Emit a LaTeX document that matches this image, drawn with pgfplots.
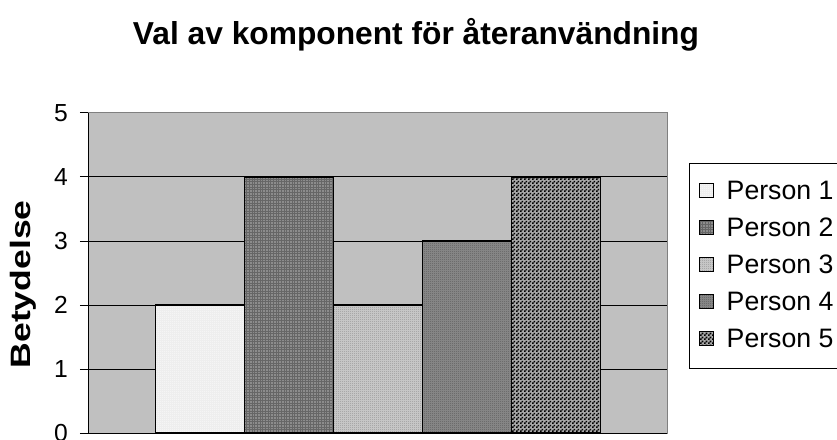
\documentclass[border=0pt]{standalone}
\usepackage{fontspec}
\setmainfont{Liberation Sans}
\usepackage{graphicx}
\usepackage{pgfplots}
\pgfplotsset{compat=1.18}
\usetikzlibrary{patterns}
\definecolor{plotbg}{HTML}{C0C0C0}
\definecolor{pone}{HTML}{EEEEEE}
\definecolor{ptwo}{HTML}{8C8C8C}
\definecolor{pthree}{HTML}{C6C6C6}
\definecolor{pfour}{HTML}{858585}
\definecolor{pfive}{HTML}{A8A8A8}
\pgfdeclarepatternformonly{fgrid}{\pgfqpoint{-0.1pt}{-0.1pt}}{\pgfqpoint{2.1pt}{2.1pt}}{\pgfqpoint{2pt}{2pt}}{%
  \pgfsetlinewidth{0.45pt}%
  \pgfpathmoveto{\pgfqpoint{0pt}{1pt}}\pgfpathlineto{\pgfqpoint{2pt}{1pt}}%
  \pgfpathmoveto{\pgfqpoint{1pt}{0pt}}\pgfpathlineto{\pgfqpoint{1pt}{2pt}}%
  \pgfusepath{stroke}}
\pgfdeclarepatternformonly{fchecker}{\pgfpointorigin}{\pgfqpoint{3pt}{3pt}}{\pgfqpoint{3pt}{3pt}}{%
  \pgfpathrectangle{\pgfpointorigin}{\pgfqpoint{1.5pt}{1.5pt}}%
  \pgfpathrectangle{\pgfqpoint{1.5pt}{1.5pt}}{\pgfqpoint{1.5pt}{1.5pt}}%
  \pgfusepath{fill}}
\pgfdeclarepatternformonly{fdots}{\pgfpointorigin}{\pgfqpoint{1.5pt}{1.5pt}}{\pgfqpoint{1.5pt}{1.5pt}}{%
  \pgfpathrectangle{\pgfpointorigin}{\pgfqpoint{0.6pt}{0.6pt}}%
  \pgfusepath{fill}}
\begin{document}
\begin{tikzpicture}
\begin{axis}[
  scale only axis,
  width=433.5pt, height=240pt,
  ybar=0pt, bar width=66.75pt,
  xmin=-1, xmax=1, ymin=0, ymax=5,
  xtick=\empty, ytick={0,1,2,3,4,5},
  ytick pos=left,
  tick align=outside, major tick length=6.75pt,
  tick style={black, line width=0.75pt},
  ymajorgrids, major grid style={black, line width=0.75pt},
  axis background/.style={fill=plotbg},
  axis line style={draw=gray, line width=0.75pt},
  clip=false,
  /pgf/number format/assume math mode=true,
  yticklabel style={font=\fontsize{18.5}{22}\selectfont, xshift=-5.5pt},
  every axis y label/.style={at={(rel axis cs:0,0.5)}, anchor=center, xshift=-49.5pt, yshift=-8.5pt, rotate=90},
  ylabel={\scalebox{1.27}[1]{Betydelse}},
  ylabel style={font=\fontsize{21}{24}\selectfont\bfseries},
  every axis title/.style={at={(rel axis cs:0.5,1)}, anchor=base, xshift=28.5pt, yshift=51pt},
  title={Val av komponent för återanvändning},
  title style={font=\fontsize{23.8}{28}\selectfont\bfseries},
  legend style={at={(rel axis cs:1,1)}, anchor=north west, xshift=16.5pt, yshift=-37.5pt,
    draw=black, line width=0.75pt, fill=white, inner xsep=7pt, inner ysep=11pt,
    font=\fontsize{20}{24}\selectfont, row sep=6.75pt,
    nodes={inner sep=1pt, text height=15pt, text depth=4pt}},
  legend cell align=left,
  legend image code/.code={\draw[#1, line width=0.75pt] (0pt,-4.2pt) rectangle (10.5pt,6.3pt); \path (19pt,0pt);},
]
\addplot[draw=black, line width=1.1pt, fill=pone, postaction={pattern=fdots, pattern color=white}] coordinates {(0,2)};
\addplot[draw=black, line width=1.1pt, fill=ptwo, postaction={pattern=fgrid, pattern color=black!60}] coordinates {(0,4)};
\addplot[draw=black, line width=1.1pt, fill=pthree, postaction={pattern=fdots, pattern color=gray}] coordinates {(0,2)};
\addplot[draw=black, line width=1.1pt, fill=pfour, postaction={pattern=fdots, pattern color=black!70}] coordinates {(0,3)};
\addplot[draw=black, line width=1.1pt, fill=pfive, postaction={pattern=fchecker, pattern color=black}] coordinates {(0,4)};
\legend{Person 1, Person 2, Person 3, Person 4, Person 5}
\draw[black, line width=0.75pt] (rel axis cs:0,1) -- (rel axis cs:0,0) -- (rel axis cs:1,0);
\coordinate (BL) at (rel axis cs:0,0);
\coordinate (TR) at (rel axis cs:1,1);
\end{axis}
\pgfresetboundingbox
\path[use as bounding box] ([xshift=-66.75pt, yshift=-4.5pt]BL) rectangle ([xshift=127.5pt, yshift=84.75pt]TR);
\end{tikzpicture}
\end{document}
